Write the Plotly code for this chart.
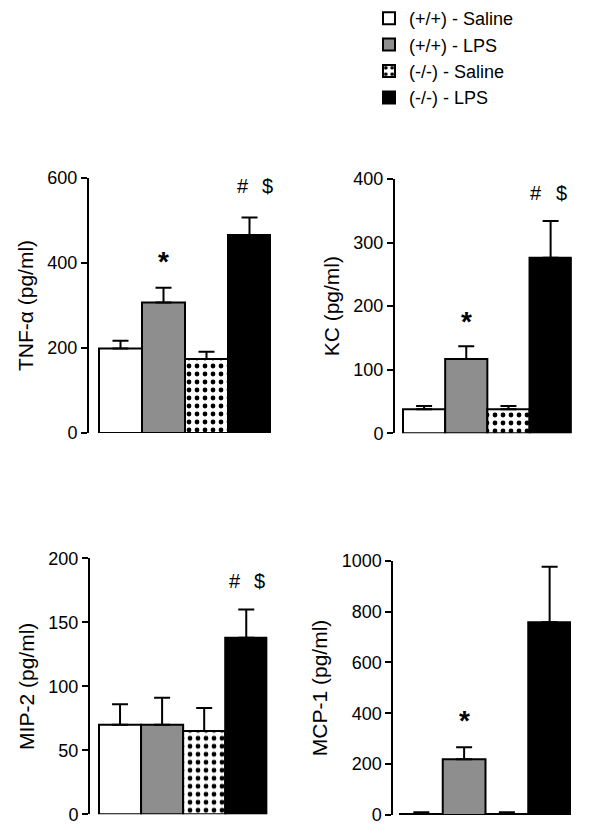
import plotly.graph_objects as go

groups = ["(+/+) - Saline", "(+/+) - LPS", "(-/-) - Saline", "(-/-) - LPS"]
positions = [0, 1, 2, 3]

tnf_mean = [199, 307, 174, 466]
tnf_err = [18, 35, 17, 41]
kc_mean = [38, 117, 38, 276]
kc_err = [5, 20, 5, 58]
mip2_mean = [70, 70, 65, 138]
mip2_err = [16, 21, 18, 22]
mcp1_mean = [4, 219, 4, 758]
mcp1_err = [7, 48, 7, 219]

titles = ["TNF-\u03b1 (pg/ml)", "KC (pg/ml)", "MIP-2 (pg/ml)", "MCP-1 (pg/ml)"]
y_max = [600, 400, 200, 1000]
y_dtick = [200, 100, 50, 200]
star_y = [403, 176, None, 370]
hash_y = [580, 378, 182.5, 1094]
hash_x = [(2.85, 3.41), (2.66, 3.26), (2.73, 3.32), (2.62, 3.20)]

W, H = 600, 835
# panel pixel geometry: (axis_x, right_x, bars_start, y0_px, ytop_px)
panels = [
    (89, 271, 99, 433, 178),
    (395, 571.7, 403, 433.3, 179),
    (90, 267.3, 99, 814.3, 558.3),
    (393.3, 571, 400, 815, 560.8),
]

colors = ["white", "#8e8e8e", "white", "black"]
FONT = "Liberation Sans, Arial, sans-serif"

data_sets = [(tnf_mean, tnf_err), (kc_mean, kc_err), (mip2_mean, mip2_err), (mcp1_mean, mcp1_err)]

fig = go.Figure()
layout = {}
annotations = []
for p, ((means, errs), (ax_x, rx, bx, y0, yt)) in enumerate(zip(data_sets, panels)):
    n = p + 1
    xa = "x" if n == 1 else f"x{n}"
    ya = "y" if n == 1 else f"y{n}"
    bar_w = (rx - bx) / 4.0
    xlo = -0.5 - (bx - ax_x) / bar_w
    for g in range(4):
        pattern = None
        if g == 2:
            pattern = dict(shape=".", fgcolor="black", bgcolor="white", fgopacity=1,
                           size=8, solidity=0.28)
        fig.add_trace(go.Bar(
            x=[positions[g]], y=[means[g]], width=1,
            name=groups[g], legendgroup=groups[g], showlegend=(p == 0),
            marker=dict(color=colors[g], line=dict(color="black", width=2), pattern=pattern),
            error_y=dict(type="data", array=[errs[g]], arrayminus=[0], symmetric=False,
                         thickness=2, width=8, color="black"),
            xaxis=xa, yaxis=ya,
        ))
    layout[f"xaxis{'' if n == 1 else n}"] = dict(
        domain=[ax_x / W, rx / W], range=[xlo, 3.5], showticklabels=False, ticks="",
        showline=False, showgrid=False, zeroline=False, anchor=ya, fixedrange=True,
        automargin=False,
    )
    layout[f"yaxis{'' if n == 1 else n}"] = dict(
        domain=[1 - y0 / H, 1 - yt / H], range=[0, y_max[p]], dtick=y_dtick[p], tick0=0,
        showline=True, linecolor="black", linewidth=2, ticks="outside", ticklen=6,
        tickwidth=2, tickcolor="black", showgrid=False, zeroline=False, anchor=xa,
        automargin=False, fixedrange=True,
        tickfont=dict(size=18, color="black", family=FONT),
        title=dict(text=titles[p], font=dict(size=21, color="black", family=FONT), standoff=8),
    )
    if star_y[p] is not None:
        annotations.append(dict(x=1, y=star_y[p], xref=xa, yref=ya, text="<b>*</b>", showarrow=False,
                                font=dict(size=28, color="black", family=FONT), yanchor="middle"))
    hx1, hx2 = hash_x[p]
    for hx, t in ((hx1, "#"), (hx2, "$")):
        annotations.append(dict(x=hx, y=hash_y[p], xref=xa, yref=ya, text=t, showarrow=False,
                                font=dict(size=20, color="black", family=FONT), yanchor="middle"))

fig.update_layout(
    **layout,
    annotations=annotations,
    barmode="overlay",
    width=W, height=H, autosize=False,
    margin=dict(l=0, r=0, t=0, b=0, pad=0, autoexpand=False),
    paper_bgcolor="white", plot_bgcolor="white",
    font=dict(family=FONT, color="black"),
    showlegend=True,
    legend=dict(x=369 / W, y=1.0, xanchor="left", yanchor="top",
                font=dict(size=18, color="black", family=FONT),
                bgcolor="rgba(0,0,0,0)", tracegroupgap=5, traceorder="normal"),
)

fig.write_html(
    "out.html",
    config={"displayModeBar": False, "responsive": False},
    post_script="document.body.style.margin='0';document.body.style.padding='0';",
)
